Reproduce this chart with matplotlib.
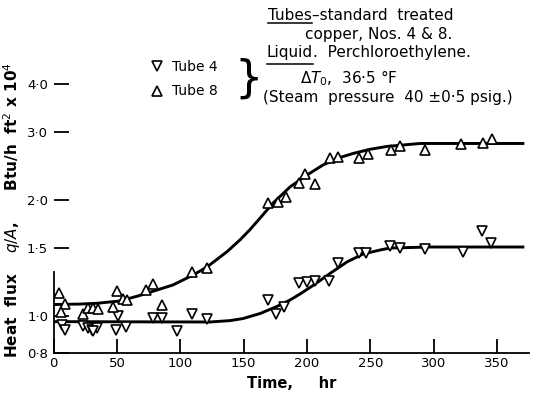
import matplotlib
matplotlib.use("Agg")
import matplotlib.pyplot as plt
from matplotlib.lines import Line2D
from matplotlib.ticker import FixedLocator, FixedFormatter, NullLocator

# ---------------- data ----------------
tube8_time = [4.4, 8.9, 5.5, 23.4, 27.3, 31.3, 35.2, 50.2, 47.1, 54.9, 57.9, 72.9,
              78.2, 85.5, 108.9, 121.4, 169.4, 177.3, 183.4, 194.0, 198.4, 206.3,
              218.4, 224.7, 241.3, 248.4, 266.3, 273.4, 293.1, 321.9, 339.2, 346.4]
tube8_flux = [1.143, 1.070, 1.024, 1.010, 1.045, 1.045, 1.041, 1.159, 1.055, 1.105,
              1.098, 1.166, 1.209, 1.068, 1.295, 1.334, 1.967, 1.978, 2.030, 2.218,
              2.334, 2.192, 2.561, 2.583, 2.561, 2.625, 2.694, 2.759, 2.694, 2.787,
              2.804, 2.885]

tube4_time = [6.9, 8.9, 23.4, 27.1, 30.6, 34.2, 31.3, 48.8, 51.0, 57.1, 78.6, 85.3,
              97.3, 109.4, 121.4, 169.4, 175.5, 182.0, 193.9, 199.7, 206.3, 217.6,
              224.4, 241.0, 246.2, 265.5, 273.2, 292.9, 323.4, 338.5, 345.2]
tube4_flux = [0.946, 0.918, 0.940, 0.929, 0.920, 0.927, 0.911, 0.920, 0.999, 0.936,
              0.989, 0.989, 0.914, 1.010, 0.983, 1.101, 1.010, 1.051, 1.216, 1.226,
              1.231, 1.227, 1.371, 1.452, 1.456, 1.519, 1.499, 1.492, 1.463, 1.659,
              1.549]

fit8_time = [0, 20.8, 34.2, 52.3, 68.1, 94.2, 110.0, 121.0, 136.8, 147.1, 155.0,
             160.5, 173.1, 186.5, 200.0, 212.6, 226.0, 236.3, 249.7, 263.1, 289.2, 370.4]
fit8_flux = [1.069, 1.072, 1.077, 1.092, 1.129, 1.202, 1.275, 1.338, 1.466, 1.574,
             1.674, 1.755, 1.960, 2.159, 2.320, 2.463, 2.576, 2.638, 2.705, 2.752,
             2.801, 2.801]

fit4_time = [0, 60, 123.4, 139.2, 149.4, 162.9, 176.3, 186.5, 194.4, 204.7, 218.1,
             231.5, 244.2, 257.6, 265.5, 297.1, 370.4]
fit4_flux = [0.965, 0.964, 0.963, 0.971, 0.983, 1.013, 1.057, 1.098, 1.138, 1.198,
             1.287, 1.379, 1.446, 1.481, 1.499, 1.508, 1.508]

x_ticks = [0, 50, 100, 150, 200, 250, 300, 350]
y_ticks = [0.8, 1.0, 1.5, 2.0, 3.0, 4.0]
y_tick_labels = ["0·8", "1·0", "1·5", "2·0", "3·0", "4·0"]

# ---------------- figure ----------------
plt.rcParams['font.family'] = ['DejaVu Sans']
plt.rcParams['mathtext.fontset'] = 'dejavusans'

W, H = 535, 398
fig = plt.figure(figsize=(W / 100, H / 100), dpi=100)


def fxy(px, py):
    return px / W, 1 - py / H


ax = fig.add_axes([53.7 / W, 45 / H, 475 / W, 306.4 / H])
ax.set_yscale('log')
ax.set_xlim(0, 375)
ax.set_ylim(0.8, 5.0)

ax.plot(fit8_time, fit8_flux, color='black', lw=2.1, zorder=2)
ax.plot(fit4_time, fit4_flux, color='black', lw=2.1, zorder=2)
h4, = ax.plot(tube4_time, tube4_flux, linestyle='none', marker='v', ms=7.5,
              mfc='white', mec='black', mew=1.2, zorder=3, label='Tube 4')
h8, = ax.plot(tube8_time, tube8_flux, linestyle='none', marker='^', ms=7.5,
              mfc='white', mec='black', mew=1.2, zorder=3, label='Tube 8')

ax.xaxis.set_major_locator(FixedLocator(x_ticks))
ax.yaxis.set_major_locator(FixedLocator(y_ticks))
ax.yaxis.set_major_formatter(FixedFormatter(y_tick_labels))
ax.yaxis.set_minor_locator(NullLocator())
ax.tick_params(axis='y', direction='in', length=11, width=1.3, pad=4, labelsize=9.5)
ax.tick_params(axis='x', direction='in', length=10, width=1.3, pad=3, labelsize=9.5)

for s in ('top', 'right'):
    ax.spines[s].set_visible(False)
ax.spines['left'].set_bounds(0.8, 1.3)
ax.spines['left'].set_linewidth(1.3)
ax.spines['bottom'].set_linewidth(1.3)

ax.set_xlabel('Time,     hr', fontsize=10.5, fontweight='bold')
ax.xaxis.set_label_coords(0.5, -0.075)
ax.set_ylabel('Heat  flux    $q/A$,      Btu/h  ft$^2$ x 10$^4$', fontsize=11,
              fontweight='bold', va='center')
ax.yaxis.set_label_coords(-0.088, 0.467)

# legend
leg = ax.legend(handles=[h4, h8], loc='upper left',
                bbox_to_anchor=fxy(150, 60), bbox_transform=fig.transFigure,
                frameon=False, borderpad=0, borderaxespad=0, handlelength=1.0,
                handletextpad=0.6, labelspacing=0.75, fontsize=10)

# brace
fig.text(*fxy(249, 79), '}', fontsize=32, ha='center', va='center')

# notes block
fs = 11
t_tubes = fig.text(*fxy(268, 20.5), 'Tubes', fontsize=fs, ha='left', va='baseline')
fig.canvas.draw()
r = fig.canvas.get_renderer()
bb = t_tubes.get_window_extent(r)
fig.text(bb.x1 / W, 1 - 20.5 / H, '–standard  treated', fontsize=fs, ha='left', va='baseline')
fig.add_artist(Line2D([bb.x0 / W, bb.x1 / W], [1 - 23 / H, 1 - 23 / H],
                      color='black', lw=1.1, transform=fig.transFigure))
fig.text(*fxy(305, 38.5), 'copper, Nos. 4 & 8.', fontsize=fs, ha='left', va='baseline')
t_liq = fig.text(*fxy(267, 57.5), 'Liquid', fontsize=fs, ha='left', va='baseline')
fig.canvas.draw()
bb2 = t_liq.get_window_extent(r)
fig.text(bb2.x1 / W, 1 - 57.5 / H, '.  Perchloroethylene.', fontsize=fs, ha='left', va='baseline')
fig.add_artist(Line2D([bb2.x0 / W, bb2.x1 / W], [1 - 63.5 / H, 1 - 63.5 / H],
                      color='black', lw=1.1, transform=fig.transFigure))
fig.text(*fxy(300, 83.5), r'$\Delta T_0$,  36·5 °F', fontsize=fs, ha='left', va='baseline')
fig.text(*fxy(263, 102), '(Steam  pressure  40 ±0·5 psig.)', fontsize=fs, ha='left', va='baseline')

fig.savefig('out.png', dpi=100)
